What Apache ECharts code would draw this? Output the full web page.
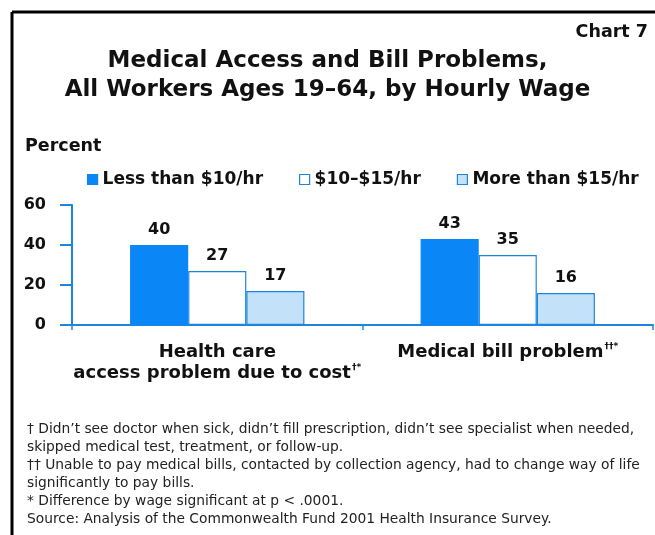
<!DOCTYPE html>
<html>
<head>
<meta charset="utf-8">
<script src="https://cdn.jsdelivr.net/npm/echarts@6/dist/echarts.min.js"></script>
<style>
  html, body { margin: 0; padding: 0; background: #fff; }
  #chart { width: 655px; height: 535px; }
</style>
</head>
<body>
<div id="chart"></div>
<script>
// Categories and survey values (percent of workers)
const categories = ['Health care\naccess problem due to cost{s|†*}', 'Medical bill problem{s|††*}'];
const seriesNames = ['Less than $10/hr', '$10–$15/hr', 'More than $15/hr'];
const lowWage = [40, 43];
const midWage = [27, 35];
const highWage = [17, 16];
const yTicks = [0, 20, 40, 60];

const footnotes = [
  '† Didn’t see doctor when sick, didn’t fill prescription, didn’t see specialist when needed,',
  'skipped medical test, treatment, or follow-up.',
  '†† Unable to pay medical bills, contacted by collection agency, had to change way of life',
  'significantly to pay bills.',
  '* Difference by wage significant at p < .0001.',
  'Source: Analysis of the Commonwealth Fund 2001 Health Insurance Survey.'
];

const BLUE = '#0a86f7';
const EDGE = '#1c86df';
const LIGHT = '#c4e1fa';
const FONT = '"DejaVu Sans", Verdana, sans-serif';

const chart = echarts.init(document.getElementById('chart'), null, { renderer: 'canvas' });

const barLabel = {
  show: true,
  position: 'top',
  distance: 7,
  color: '#111',
  fontFamily: FONT,
  fontWeight: 'bold',
  fontSize: 16
};

const fills = [
  { color: BLUE, borderColor: BLUE },
  { color: '#ffffff', borderColor: EDGE },
  { color: LIGHT, borderColor: EDGE }
];
const values = [lowWage, midWage, highWage];

const graphics = [
  // frame lines along the top and left edges
  { type: 'line', shape: { x1: 12, y1: 12, x2: 660, y2: 12 }, style: { stroke: '#000', lineWidth: 3 } },
  { type: 'line', shape: { x1: 12, y1: 12, x2: 12, y2: 540 }, style: { stroke: '#000', lineWidth: 3 } },
  {
    type: 'text', right: 7, top: 23,
    style: { text: 'Chart 7', font: 'bold 17.5px ' + FONT, fill: '#111' }
  },
  {
    type: 'text', left: 25, top: 137,
    style: { text: 'Percent', font: 'bold 17.5px ' + FONT, fill: '#111' }
  }
];
footnotes.forEach(function (line, i) {
  graphics.push({
    type: 'text', left: 27, top: 422 + i * 18,
    style: { text: line, font: '13.8px ' + FONT, fill: '#222' }
  });
});

chart.setOption({
  animation: false,
  backgroundColor: '#ffffff',
  title: {
    text: 'Medical Access and Bill Problems,\nAll Workers Ages 19–64, by Hourly Wage',
    left: 'center',
    top: 42,
    textStyle: {
      fontFamily: FONT, fontWeight: 'bold', fontSize: 23, color: '#111', lineHeight: 28.5
    }
  },
  legend: {
    left: 82,
    top: 166,
    itemGap: 36,
    itemWidth: 10,
    itemHeight: 10,
    icon: 'rect',
    textStyle: { fontFamily: FONT, fontWeight: 'bold', fontSize: 17, color: '#111' },
    data: seriesNames.map(function (n, i) {
      return { name: n, itemStyle: { color: fills[i].color, borderColor: fills[i].borderColor, borderWidth: 1.2 } };
    })
  },
  grid: { left: 72, right: 2, top: 205, bottom: 210, containLabel: false },
  xAxis: {
    type: 'category',
    data: categories,
    axisLine: { lineStyle: { color: EDGE, width: 2 } },
    axisTick: { show: true, length: 5, lineStyle: { color: EDGE, width: 1.5 } },
    axisLabel: {
      interval: 0,
      margin: 17,
      color: '#111',
      fontFamily: FONT,
      fontWeight: 'bold',
      fontSize: 18,
      lineHeight: 21,
      rich: {
        s: { fontSize: 9, fontWeight: 'bold', fontFamily: FONT, color: '#111', verticalAlign: 'top', padding: [0, 0, 7, 1] }
      }
    }
  },
  yAxis: {
    type: 'value',
    min: yTicks[0],
    max: yTicks[yTicks.length - 1],
    interval: 20,
    axisLine: { show: true, lineStyle: { color: EDGE, width: 2 } },
    axisTick: { show: true, length: 12, lineStyle: { color: EDGE, width: 2 } },
    splitLine: { show: false },
    axisLabel: {
      margin: 26,
      color: '#111',
      fontFamily: FONT,
      fontWeight: 'bold',
      fontSize: 16
    }
  },
  series: seriesNames.map(function (n, i) {
    return {
      name: n,
      type: 'bar',
      data: values[i],
      barWidth: '20%',
      barGap: '0%',
      itemStyle: { color: fills[i].color, borderColor: fills[i].borderColor, borderWidth: 1.2 },
      label: barLabel
    };
  }),
  graphic: graphics
});
</script>
</body>
</html>
